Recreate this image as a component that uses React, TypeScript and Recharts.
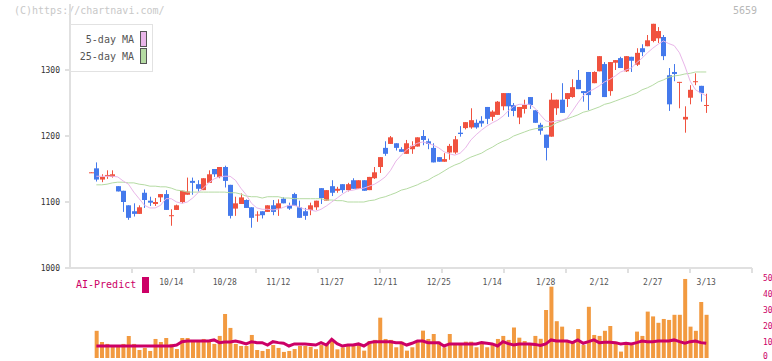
import { Bar, ComposedChart, Line, XAxis, YAxis } from "recharts";

// candles, one per trading day (index 0..115)
const opens = [
  1144, 1151, 1134, 1139, 1138, 1124, 1117, 1095, 1086, 1082, 1114, 1102, 1097, 1107, 1112, 1079, 1088, 1100, 1111, 1132,
  1127, 1118, 1129, 1150, 1138, 1153, 1126, 1090, 1097, 1103, 1092, 1080, 1086, 1085, 1095, 1090, 1105, 1095, 1112, 1092,
  1086, 1088, 1092, 1121, 1102, 1124, 1117, 1127, 1118, 1133, 1120, 1133, 1118, 1136, 1153, 1182, 1188, 1189, 1180, 1173,
  1180, 1184, 1200, 1192, 1182, 1168, 1161, 1175, 1175, 1205, 1212, 1213, 1220, 1223, 1244, 1229, 1232, 1245, 1265, 1247,
  1228, 1241, 1259, 1239, 1217, 1202, 1199, 1242, 1255, 1256, 1259, 1285, 1268, 1297, 1280, 1298, 1309, 1268, 1311, 1318,
  1298, 1320, 1308, 1333, 1336, 1344, 1348, 1350, 1292, 1297, 1281, 1225, 1258, 1282, 1276, 1246
];
const highs = [
  1145, 1160, 1142, 1148, 1148, 1124, 1117, 1095, 1098, 1095, 1119, 1108, 1106, 1112, 1118, 1089, 1096, 1117, 1137, 1137,
  1133, 1136, 1148, 1150, 1153, 1155, 1126, 1108, 1113, 1104, 1092, 1086, 1086, 1095, 1103, 1104, 1107, 1099, 1114, 1102,
  1091, 1099, 1102, 1121, 1118, 1133, 1123, 1127, 1129, 1136, 1133, 1133, 1138, 1153, 1168, 1192, 1200, 1189, 1183, 1194,
  1192, 1198, 1209, 1196, 1189, 1168, 1174, 1188, 1200, 1215, 1221, 1242, 1225, 1230, 1244, 1239, 1253, 1265, 1265, 1250,
  1244, 1255, 1259, 1239, 1220, 1202, 1265, 1255, 1280, 1265, 1286, 1300, 1268, 1297, 1298, 1321, 1312, 1312, 1315, 1320,
  1321, 1320, 1333, 1339, 1353, 1370, 1365, 1353, 1303, 1309, 1282, 1245, 1277, 1295, 1276, 1264
];
const lows = [
  1144, 1131, 1130, 1135, 1137, 1116, 1085, 1073, 1078, 1082, 1091, 1094, 1094, 1100, 1088, 1064, 1088, 1098, 1111, 1111,
  1116, 1118, 1129, 1138, 1136, 1122, 1075, 1079, 1097, 1091, 1061, 1070, 1075, 1085, 1080, 1079, 1098, 1088, 1094, 1076,
  1073, 1080, 1088, 1097, 1102, 1109, 1114, 1114, 1116, 1120, 1120, 1117, 1118, 1135, 1144, 1170, 1188, 1178, 1176, 1173,
  1173, 1184, 1186, 1180, 1160, 1161, 1161, 1164, 1173, 1199, 1210, 1211, 1211, 1214, 1218, 1223, 1232, 1239, 1229, 1230,
  1218, 1234, 1241, 1220, 1202, 1163, 1199, 1232, 1235, 1244, 1258, 1271, 1252, 1239, 1280, 1298, 1259, 1261, 1300, 1303,
  1297, 1297, 1306, 1321, 1336, 1342, 1341, 1315, 1238, 1283, 1242, 1205, 1248, 1277, 1252, 1235
];
const closes = [
  1145, 1134, 1138, 1141, 1142, 1116, 1100, 1076, 1082, 1092, 1103, 1099, 1100, 1112, 1088, 1080, 1095, 1117, 1116, 1129,
  1120, 1136, 1142, 1142, 1153, 1132, 1079, 1098, 1107, 1091, 1076, 1081, 1080, 1095, 1085, 1098, 1098, 1090, 1094, 1076,
  1079, 1095, 1102, 1106, 1118, 1114, 1120, 1118, 1127, 1120, 1133, 1117, 1138, 1145, 1168, 1173, 1198, 1182, 1176, 1189,
  1185, 1198, 1194, 1188, 1160, 1161, 1165, 1185, 1195, 1203, 1221, 1224, 1213, 1219, 1226, 1237, 1252, 1265, 1245, 1238,
  1244, 1247, 1247, 1220, 1208, 1182, 1255, 1255, 1235, 1265, 1274, 1271, 1265, 1262, 1297, 1321, 1259, 1312, 1315, 1303,
  1321, 1314, 1326, 1327, 1345, 1370, 1359, 1321, 1248, 1294, 1282, 1229, 1270, 1283, 1265, 1247
];
const ma5 = [
  null, 1139, 1139, 1139, 1139, 1138, 1132, 1127, 1115, 1105, 1095, 1091, 1091, 1095, 1105, 1105, 1100, 1098, 1100, 1106,
  1114, 1121, 1129, 1135, 1138, 1139, 1139, 1133, 1121, 1111, 1098, 1091, 1089, 1089, 1088, 1089, 1092, 1095, 1095, 1092,
  1089, 1088, 1086, 1089, 1094, 1100, 1106, 1112, 1117, 1118, 1120, 1121, 1124, 1127, 1132, 1138, 1148, 1162, 1171, 1179,
  1185, 1189, 1191, 1189, 1186, 1182, 1176, 1173, 1171, 1174, 1182, 1194, 1202, 1209, 1215, 1220, 1224, 1230, 1238, 1245,
  1248, 1248, 1248, 1242, 1232, 1223, 1221, 1223, 1224, 1227, 1238, 1250, 1261, 1267, 1271, 1276, 1282, 1286, 1291, 1297,
  1300, 1303, 1311, 1318, 1326, 1333, 1339, 1344, 1340, 1337, 1326, 1306, 1283, 1270, 1265, 1261
];
const ma25 = [
  null, 1126, 1126, 1127, 1129, 1130, 1130, 1129, 1129, 1127, 1126, 1124, 1124, 1123, 1123, 1121, 1118, 1117, 1115, 1115,
  1115, 1115, 1115, 1115, 1115, 1115, 1114, 1114, 1112, 1109, 1108, 1108, 1106, 1108, 1108, 1108, 1106, 1106, 1105, 1105,
  1105, 1105, 1105, 1105, 1103, 1103, 1102, 1102, 1100, 1100, 1100, 1100, 1102, 1103, 1106, 1108, 1111, 1114, 1118, 1120,
  1123, 1126, 1130, 1133, 1138, 1142, 1147, 1152, 1156, 1159, 1164, 1168, 1171, 1174, 1179, 1183, 1188, 1192, 1195, 1200,
  1203, 1206, 1209, 1211, 1212, 1214, 1215, 1220, 1223, 1226, 1229, 1232, 1236, 1238, 1241, 1244, 1248, 1250, 1253, 1256,
  1259, 1262, 1265, 1270, 1273, 1277, 1282, 1285, 1289, 1291, 1292, 1294, 1295, 1297, 1297, 1297
];
// AI-Predict panel (index 0 has no bar)
const volume = [
  null, 17, 10, 8.8, 7.5, 7.5, 8.8, 13.8, 8.8, 5, 6.3, 4.4, 11.9, 10, 12.5, 8.8, 5.6, 12.5, 12.5, 10,
  10, 11.9, 10, 8.8, 13.8, 27.5, 18.8, 8.8, 7.5, 7.5, 14.4, 5, 4.4, 5.6, 8.1, 6.3, 3.8, 4.4, 5.6, 7.5,
  7.5, 7, 5.5, 8.1, 9.2, 11.3, 5.4, 6.7, 7.5, 8.1, 8.1, 4.6, 10.6, 11.3, 25.2, 11.9, 11.3, 6.7, 10.2, 4.6,
  6.7, 10.6, 17.1, 11.9, 15, 10.2, 6.7, 15, 9.2, 9.2, 10.2, 10.2, 6.7, 9.2, 6.7, 8.8, 11.9, 13.8, 11.3, 19,
  12.7, 10.6, 8.5, 13.8, 12, 30, 44.6, 23, 19.6, 10.2, 10.2, 18.1, 8.1, 32, 14.4, 13.8, 17, 20, 10.2, 4,
  8.1, 8.1, 16.5, 13.8, 29, 26, 22, 24.4, 23.8, 27, 27, 49.4, 19.6, 17, 35, 27
];
const aiPredict = [
  null, 7.5, 7.5, 7.5, 7.5, 7.5, 7.5, 7.5, 7.5, 7.5, 7.5, 7.5, 7.5, 7.5, 7.5, 7.5, 8.1, 10.2, 10.6, 10.6,
  10.6, 10.6, 10.6, 11.3, 9.6, 10, 10, 10.6, 9.8, 8.8, 10.2, 9.6, 9.6, 8.1, 10.2, 9.6, 9.2, 7.5, 8.8, 8.8,
  8.8, 8.5, 8.1, 9.6, 8.1, 11.7, 9, 7.5, 8.1, 8.1, 8.8, 7.5, 9.6, 10.2, 10.2, 10.2, 10.2, 9.6, 9.6, 8.1,
  9.2, 10.6, 10.6, 9.6, 9.6, 9.6, 7.5, 8.8, 8.8, 8.8, 8.8, 8.8, 8.8, 9.6, 9.2, 8.8, 7.5, 10.2, 9, 8.1,
  8.8, 8.8, 8.8, 8.5, 7.8, 8.8, 11.3, 10.6, 10.6, 10.6, 9.6, 11.3, 9.2, 10.2, 11.3, 9.6, 9.8, 9.8, 9.6, 8.8,
  9.2, 8.8, 9.6, 10.6, 10.2, 10.2, 10.6, 10.6, 10.6, 11.3, 10.2, 9.2, 10.2, 10.6, 9.6, 9.2
];
const dateLabels = ["10/14", "10/28", "11/12", "11/27", "12/11", "12/25", "1/14", "1/28", "2/12", "2/27", "3/13"];
const dateIndex = [15, 25, 35, 45, 55, 65, 75, 85, 95, 105, 115];
const priceTicks = [1000, 1100, 1200, 1300];
const volTicks = [0, 10, 20, 30, 40, 50];

const RED = "#f0523f";
const BLUE = "#4479ec";
const PINK = "#e9b6e9";
const GREEN = "#b5dba3";
const MAGENTA = "#cc0066";
const ORANGE = "#f29a40";
const MONO = "'DejaVu Sans Mono', 'Liberation Mono', monospace";

const X_DOMAIN: [number, number] = [-3.925, 123.55];
const gridTicks = Array.from({ length: 11 }, (_, k) => X_DOMAIN[0] + ((k + 1) * (X_DOMAIN[1] - X_DOMAIN[0])) / 11);

const priceData = opens.map((open, i) => ({
  i,
  open,
  close: closes[i],
  high: highs[i],
  low: lows[i],
  range: [lows[i], highs[i]],
  ma5: ma5[i],
  ma25: ma25[i]
}));

const volData = volume.map((v, i) => ({ i, vol: v, ai: aiPredict[i] }));

function Candle(props: any) {
  const { x, y, width, height, payload } = props;
  if (x == null || payload == null) return null;
  const top = Math.min(y, y + height);
  const h = Math.abs(height);
  const { open, close, high, low } = payload;
  const color = close >= open ? RED : BLUE;
  const k = h / Math.max(high - low, 0.0001);
  const yOf = (v: number) => top + (high - v) * k;
  const cx = Math.round(x + width / 2) + 0.5;
  const bTop = yOf(Math.max(open, close));
  const bBot = yOf(Math.min(open, close));
  return (
    <g>
      <line x1={cx} x2={cx} y1={top} y2={top + h} stroke={color} strokeWidth={1} />
      <rect x={cx - 2.5} y={bTop} width={5} height={Math.max(bBot - bTop, 1)} fill={color} />
    </g>
  );
}

function DateTick(props: any) {
  const { x, payload } = props;
  const idx = dateIndex.indexOf(payload.value);
  return (
    <text x={x} y={282} textAnchor="middle" dominantBaseline="central" fontSize={8} fontFamily={MONO} fill="#555">
      {dateLabels[idx]}
    </text>
  );
}

// right-hand scale of the AI panel; the 0 label sits a little higher so it stays on the page
function VolTick(props: any) {
  const { x, y, payload } = props;
  const lift = payload.value === 0 ? 2 : 0;
  return (
    <text x={x} y={y - lift} textAnchor="start" dominantBaseline="central" fontSize={8} fontFamily={MONO} fill={MAGENTA}>
      {payload.value}
    </text>
  );
}

function LegendRow({ label, color }: { label: string; color: string }) {
  return (
    <div style={{ display: "flex", justifyContent: "flex-end", alignItems: "center", height: 16, marginBottom: 1 }}>
      <span style={{ fontSize: 10, fontFamily: MONO, color: "#555", marginRight: 6 }}>{label}</span>
      <span style={{ width: 5, height: 14, background: color, border: "1px solid #555", display: "inline-block" }} />
    </div>
  );
}

export default function App() {
  return (
    <div style={{ position: "relative", width: 772, height: 361, background: "#fff", overflow: "hidden" }}>
      <style>{"body{margin:0}"}</style>
      <div style={{ position: "absolute", left: 14, top: 5, fontSize: 10, fontFamily: MONO, color: "#c8c8c8" }}>
        (C)https://chartnavi.com/
      </div>
      <div style={{ position: "absolute", right: 15, top: 5, fontSize: 10, fontFamily: MONO, color: "#b8b8b8" }}>5659</div>

      <div style={{ position: "absolute", left: 0, top: 0 }}>
        <ComposedChart width={772} height={361} data={priceData} margin={{ top: 4, right: 20, bottom: 0, left: 0 }}>
          <XAxis
            dataKey="i"
            type="number"
            domain={X_DOMAIN}
            allowDataOverflow
            ticks={gridTicks}
            tickFormatter={() => ""}
            height={10}
            tickSize={5}
            axisLine={{ stroke: "#e0e0e0", strokeWidth: 2 }}
            tickLine={{ stroke: "#e0e0e0", strokeWidth: 2 }}
          />
          <XAxis
            xAxisId="date"
            dataKey="i"
            type="number"
            domain={X_DOMAIN}
            allowDataOverflow
            ticks={dateIndex}
            height={83}
            axisLine={false}
            tickLine={false}
            tick={<DateTick />}
          />
          <YAxis
            type="number"
            domain={[1000, 1400]}
            allowDataOverflow
            ticks={priceTicks}
            width={70}
            tickSize={5}
            tickMargin={5}
            axisLine={{ stroke: "#e0e0e0", strokeWidth: 2 }}
            tickLine={{ stroke: "#e0e0e0", strokeWidth: 2 }}
            tick={{ fontSize: 8, fontFamily: MONO, fill: "#333" }}
          />
          <Line dataKey="ma25" stroke={GREEN} strokeWidth={1} dot={false} isAnimationActive={false} />
          <Line dataKey="ma5" stroke={PINK} strokeWidth={1} dot={false} isAnimationActive={false} />
          <Bar dataKey="range" barSize={5} shape={<Candle />} isAnimationActive={false} />
        </ComposedChart>
      </div>

      <div
        style={{
          position: "absolute",
          left: 70,
          top: 24,
          width: 76,
          height: 40,
          border: "1px solid #e2e2e2",
          background: "#fff",
          padding: "6px 5px 0 0"
        }}
      >
        <LegendRow label="5-day MA" color={PINK} />
        <LegendRow label="25-day MA" color={GREEN} />
      </div>

      <div style={{ position: "absolute", left: 76, top: 279, fontSize: 10, fontFamily: MONO, color: MAGENTA }}>AI-Predict</div>
      <div style={{ position: "absolute", left: 142, top: 277, width: 7, height: 16, background: MAGENTA }} />

      <div style={{ position: "absolute", left: 0, top: 270 }}>
        <ComposedChart width={772} height={91} data={volData} margin={{ top: 8, right: 0, bottom: 3, left: 70 }}>
          <XAxis dataKey="i" type="number" domain={X_DOMAIN} allowDataOverflow hide />
          <YAxis
            orientation="right"
            type="number"
            domain={[0, 50]}
            ticks={volTicks}
            interval={0}
            width={20}
            axisLine={false}
            tickLine={false}
            tickMargin={5}
            tick={<VolTick />}
          />
          <Bar dataKey="vol" barSize={4} fill={ORANGE} isAnimationActive={false} />
          <Line dataKey="ai" stroke={MAGENTA} strokeWidth={3} dot={false} isAnimationActive={false} />
        </ComposedChart>
      </div>
    </div>
  );
}
